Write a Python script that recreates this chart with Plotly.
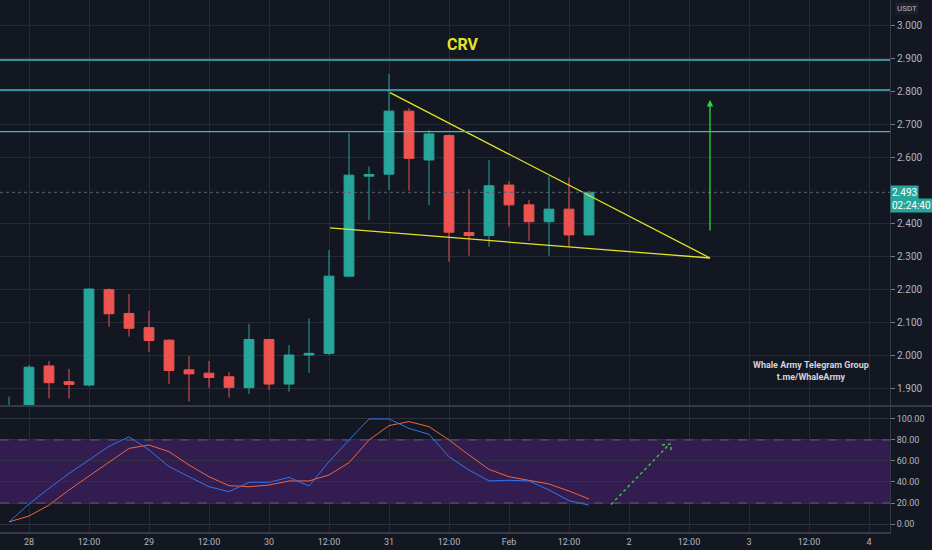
import pandas as pd
import plotly.graph_objects as go

# 4h candles, CRV/USDT, 27 Jan 20:00 -> 1 Feb 16:00
times = pd.date_range('2021-01-27 20:00', periods=30, freq='4h')
opens = [1.832, 1.835, 1.967, 1.919, 1.909, 2.198, 2.126, 2.083, 2.045, 1.955,
         1.945, 1.934, 1.901, 2.047, 1.912, 2.000, 2.005, 2.239, 2.542, 2.548,
         2.739, 2.591, 2.665, 2.371, 2.362, 2.515, 2.455, 2.404, 2.442, 2.364]
highs = [1.874, 1.970, 1.982, 1.958, 2.202, 2.202, 2.185, 2.134, 2.048, 1.997,
         1.982, 1.948, 2.094, 2.049, 2.030, 2.111, 2.318, 2.672, 2.571, 2.852,
         2.748, 2.682, 2.668, 2.503, 2.591, 2.527, 2.470, 2.542, 2.538, 2.498]
lows = [1.825, 1.830, 1.869, 1.868, 1.905, 2.086, 2.056, 2.010, 1.912, 1.859,
        1.901, 1.871, 1.882, 1.894, 1.889, 1.946, 2.000, 2.235, 2.409, 2.500,
        2.498, 2.454, 2.283, 2.301, 2.328, 2.389, 2.346, 2.301, 2.328, 2.362]
closes = [1.843, 1.963, 1.916, 1.911, 2.200, 2.125, 2.081, 2.044, 1.953, 1.943,
          1.932, 1.902, 2.047, 1.912, 2.000, 2.005, 2.239, 2.545, 2.547, 2.739,
          2.596, 2.670, 2.372, 2.362, 2.513, 2.455, 2.404, 2.442, 2.364, 2.493]

# Stoch RSI
stoch_k = [2, 19, 34, 48, 61, 74, 83, 70.5, 54.6, 45, 35.5, 30.8, 39.7, 39.7, 44.4,
           36.2, 59.4, 80, 100, 100, 91, 85.4, 64, 51.4, 41, 41.6, 41, 32.4, 22.2, 18]
stoch_d = [2, 7.6, 18, 32.4, 45.7, 58.7, 72, 75.2, 68.9, 56.2, 45, 36.5, 35.5, 37.1, 41,
           41, 46.7, 58.4, 80, 93.7, 97.5, 92.7, 80, 65.7, 52, 45, 41.3, 38.1, 31.4, 23.8]

# drawings
levels = [2.894, 2.803, 2.677]
wedge_top_t = ['2021-01-31 00:12', '2021-02-02 16:12']
wedge_top_p = [2.795, 2.294]
wedge_bot_t = ['2021-01-30 12:12', '2021-02-02 16:12']
wedge_bot_p = [2.385, 2.294]
target_t = '2021-02-02 16:12'
target_from, target_to = 2.373, 2.773
rsi_arrow_t = ['2021-02-01 20:24', '2021-02-02 08:00']
rsi_arrow_v = [18.6, 75.6]
rsi_head_t = ['2021-02-02 06:36', '2021-02-02 08:24', '2021-02-02 08:24']
rsi_head_v = [75.2, 76.2, 67.6]
last_price = 2.493

tick_times = pd.date_range('2021-01-28', '2021-02-04', freq='12h')
tick_text = ['28', '12:00', '29', '12:00', '30', '12:00', '31', '12:00',
             'Feb', '12:00', '2', '12:00', '3', '12:00', '4']
# 2.500 sits under the last-price badge, so it is not labelled
price_ticks = [1.9, 2.0, 2.1, 2.2, 2.3, 2.4, 2.6, 2.7, 2.8, 2.9, 3.0]
rsi_ticks = [0, 20, 40, 60, 80, 100]

bg = '#131722'
grid = '#262a35'
txt = '#b2b5be'
font = 'Roboto, Liberation Sans, sans-serif'

fig = go.Figure()
fig.add_trace(go.Candlestick(x=times, open=opens, high=highs, low=lows, close=closes,
                             increasing=dict(line=dict(color='#26a69a', width=1), fillcolor='#26a69a'),
                             decreasing=dict(line=dict(color='#ef5350', width=1), fillcolor='#ef5350'),
                             hoverinfo='skip', xaxis='x', yaxis='y'))
# wedge lines
fig.add_trace(go.Scatter(x=wedge_top_t, y=wedge_top_p, mode='lines',
                         line=dict(color='#e6e327', width=1.3), xaxis='x', yaxis='y'))
fig.add_trace(go.Scatter(x=wedge_bot_t, y=wedge_bot_p, mode='lines',
                         line=dict(color='#e6e327', width=1.3), xaxis='x', yaxis='y'))
# stoch rsi
fig.add_trace(go.Scatter(x=times, y=stoch_d, mode='lines', line=dict(color='#f0653c', width=1),
                         xaxis='x2', yaxis='y2'))
fig.add_trace(go.Scatter(x=times, y=stoch_k, mode='lines', line=dict(color='#2f74f0', width=1),
                         xaxis='x2', yaxis='y2'))
fig.add_trace(go.Scatter(x=rsi_arrow_t, y=rsi_arrow_v, mode='lines',
                         line=dict(color='#3ecf4a', width=1.3, dash='dot'), xaxis='x2', yaxis='y2'))
fig.add_trace(go.Scatter(x=rsi_head_t, y=rsi_head_v, mode='lines',
                         line=dict(color='#3ecf4a', width=1.3, dash='dot'), xaxis='x2', yaxis='y2'))

shapes = []
for lv in levels:
    shapes.append(dict(type='line', xref='paper', x0=0, x1=1, yref='y', y0=lv, y1=lv,
                       line=dict(color='#3fb8c8', width=1.3)))
shapes.append(dict(type='line', xref='paper', x0=0, x1=1, yref='y', y0=last_price, y1=last_price,
                   line=dict(color='#5d606b', width=1, dash='dot')))
shapes.append(dict(type='rect', xref='paper', x0=0, x1=1, yref='y2', y0=20, y1=80,
                   fillcolor='rgba(126,44,190,0.30)', line=dict(width=0), layer='below'))
for lv in [20, 80]:
    shapes.append(dict(type='line', xref='paper', x0=0, x1=1, yref='y2', y0=lv, y1=lv,
                       line=dict(color='#5d606b', width=1, dash='dash')))
# pane separator
shapes.append(dict(type='line', xref='paper', x0=0, x1=1.05, yref='paper', y0=0.2368, y1=0.2368,
                   line=dict(color='#363a45', width=2)))

annotations = [
    dict(text='<b>CRV</b>', xref='paper', x=0.520, xanchor='center', yref='paper', y=0.917,
         yanchor='middle', showarrow=False, font=dict(color='#e6e327', size=16, family=font)),
    dict(text='<b>Whale Army Telegram Group<br>t.me/WhaleArmy</b>', xref='paper', x=0.911,
         xanchor='center', yref='y', y=1.9515, yanchor='middle', showarrow=False,
         font=dict(color='#d1d4dc', size=9, family=font)),
    dict(x=target_t, y=target_to, ax=target_t, ay=target_from, xref='x', yref='y',
         axref='x', ayref='y', showarrow=True, arrowhead=2, arrowsize=1, arrowwidth=1.3,
         arrowcolor='#2ed43a', text=''),
    dict(text=f'{last_price:.3f}', xref='paper', x=1.0, xanchor='left', yref='y', y=last_price,
         showarrow=False, bgcolor='#26a69a', font=dict(color='white', size=10, family=font),
         borderpad=1),
    dict(text='02:24:40', xref='paper', x=1.0, xanchor='left', yref='y', y=last_price, yshift=-13,
         showarrow=False, bgcolor='#26a69a', font=dict(color='white', size=10, family=font),
         borderpad=1),
    dict(text='USDT', xref='paper', x=1.006, xanchor='left', yref='paper', y=1.0, yanchor='top',
         yshift=-2, showarrow=False, bgcolor='#1e222d', font=dict(color=txt, size=8, family=font)),
]

axis_common = dict(type='date', range=['2021-01-27 18:12', '2021-02-04 04:12'],
                   tickvals=tick_times, ticktext=tick_text, showgrid=True, gridcolor=grid,
                   zeroline=False, rangeslider=dict(visible=False), fixedrange=True)

fig.update_layout(
    width=932, height=550,
    margin=dict(l=0, r=42, t=0, b=18),
    paper_bgcolor=bg, plot_bgcolor=bg,
    showlegend=False,
    font=dict(family=font, color=txt, size=10),
    xaxis=dict(**axis_common, anchor='y', showticklabels=False),
    xaxis2=dict(**axis_common, anchor='y2', matches='x', showline=True, linecolor='#363a45',
                linewidth=2, ticks='', tickfont=dict(size=9, color=txt)),
    yaxis=dict(domain=[0.2387, 1], range=[1.8485, 3.0758], side='right', tickvals=price_ticks,
               tickformat='.3f', showgrid=True, gridcolor=grid, zeroline=False, ticks='outside',
               ticklen=4, tickcolor='#787b86', showline=True, linecolor='#363a45',
               tickfont=dict(size=10, color=txt), fixedrange=True),
    yaxis2=dict(domain=[0, 0.235], range=[-7.6, 111.4], side='right', tickvals=rsi_ticks,
                tickformat='.2f', showgrid=True, gridcolor='#2e323d', zeroline=False,
                ticks='outside', ticklen=4, tickcolor='#787b86', showline=True,
                linecolor='#363a45', tickfont=dict(size=9, color=txt), fixedrange=True),
    shapes=shapes,
    annotations=annotations,
)

# page margin off so the chart sits at the window's corner
fig.write_html('out.html', config={'displayModeBar': False},
               post_script="document.body.style.margin='0';")
